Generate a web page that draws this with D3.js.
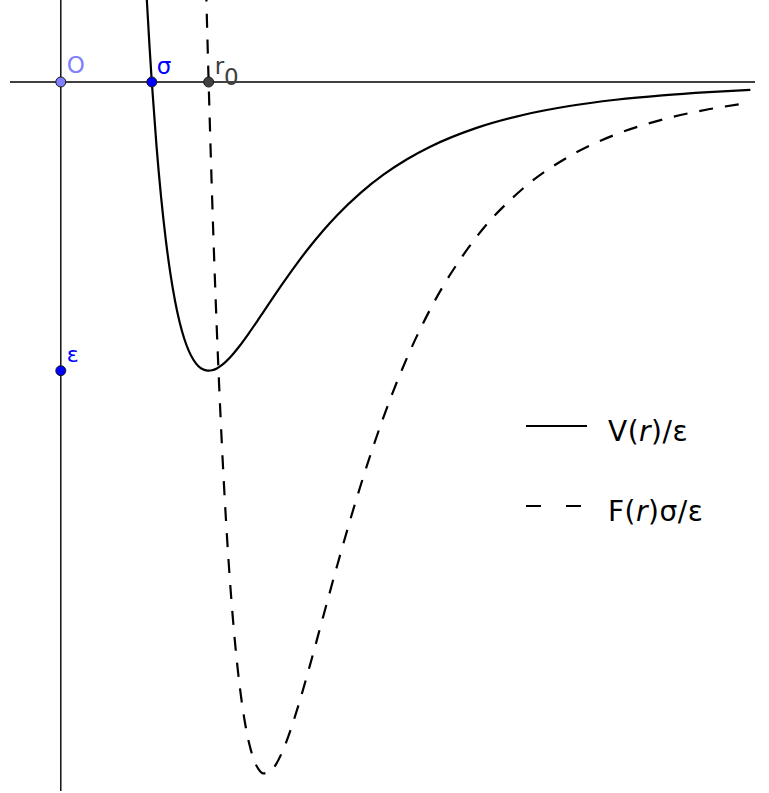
<!DOCTYPE html>
<html>
<head>
<meta charset="utf-8">
<script src="https://cdn.jsdelivr.net/npm/d3@7"></script>
<style>
  html, body { margin: 0; padding: 0; background: #fff; }
  svg { display: block; }
  text { font-family: "DejaVu Sans", sans-serif; }
</style>
</head>
<body>
<script>
// Lennard-Jones potential V(r)/ε and force F(r)σ/ε, tabulated against r/σ
const rV = [0.985, 0.99, 0.995, 1.0, 1.01, 1.02, 1.03, 1.04, 1.05, 1.06, 1.07, 1.08, 1.09,
  1.10, 1.11, 1.12, 1.1225, 1.13, 1.14, 1.15, 1.17, 1.19, 1.21, 1.23, 1.25, 1.28, 1.31,
  1.34, 1.37, 1.40, 1.45, 1.50, 1.55, 1.60, 1.70, 1.80, 1.90, 2.00, 2.10, 2.20, 2.29];
const potential = [0.4157, 0.2641, 0.1259, 0, -0.2184, -0.3979, -0.5444, -0.6629, -0.7575,
  -0.8320, -0.8893, -0.9322, -0.9629, -0.9834, -0.9952, -0.9998, -1.0, -0.9985, -0.9921,
  -0.9817, -0.9515, -0.9126, -0.8684, -0.8216, -0.7737, -0.7027, -0.6349, -0.5716, -0.5134,
  -0.4607, -0.3841, -0.3203, -0.2676, -0.2242, -0.1589, -0.1142, -0.0832, -0.0615, -0.0461,
  -0.0350, -0.0275];

const rF = [1.10, 1.11, 1.12, 1.1225, 1.13, 1.14, 1.15, 1.16, 1.17, 1.18, 1.19, 1.20, 1.21,
  1.22, 1.23, 1.24, 1.25, 1.26, 1.28, 1.30, 1.32, 1.34, 1.37, 1.40, 1.45, 1.50, 1.55, 1.60,
  1.70, 1.80, 1.90, 2.00, 2.10, 2.20, 2.29];
const force = [1.5881, 0.8009, 0.1440, 0, -0.4016, -0.8520, -1.2212, -1.5210, -1.7619,
  -1.9524, -2.1002, -2.2117, -2.2925, -2.3473, -2.3803, -2.3950, -2.3944, -2.3810, -2.3246,
  -2.2400, -2.1376, -2.0249, -1.8480, -1.6720, -1.3976, -1.1580, -0.9554, -0.7875, -0.5364,
  -0.3690, -0.2571, -0.1816, -0.1302, -0.0945, -0.0717];

// Marked points
const pointLabels = ["O", "σ", "r", "ε"];
const pointR = [0.80388, 1.0, 1.1225, 0.80388];
const pointV = [0, 0, 0, -1];
const pointFill = ["#7f7fff", "#0000ff", "#404040", "#0000ff"];
const labelColor = ["#7f7fff", "#0000ff", "#404040", "#0000ff"];

const legendLabels = [["V(", "r", ")/ε"], ["F(", "r", ")σ/ε"]];

const W = 769, H = 793;
const svg = d3.select("body").append("svg").attr("width", W).attr("height", H);

const x = d3.scaleLinear().domain([1, 2]).range([151.8, 615.8]);
const y = d3.scaleLinear().domain([0, -1]).range([82, 370.7]);

// axes
const x0 = x(pointR[0]);
svg.append("line").attr("x1", 10).attr("x2", 755).attr("y1", y(0)).attr("y2", y(0))
  .attr("stroke", "#000").attr("stroke-width", 1.4);
svg.append("line").attr("x1", x0).attr("x2", x0).attr("y1", 0).attr("y2", 791)
  .attr("stroke", "#000").attr("stroke-width", 1.4);

const line = d3.line().x(d => x(d[0])).y(d => y(d[1])).curve(d3.curveMonotoneX);

svg.append("path")
  .datum(rV.map((r, i) => [r, potential[i]]))
  .attr("d", line).attr("fill", "none").attr("stroke", "#000").attr("stroke-width", 2.2);

svg.append("path")
  .datum(rF.map((r, i) => [r, force[i]]))
  .attr("d", line).attr("fill", "none").attr("stroke", "#000").attr("stroke-width", 2.2)
  .attr("stroke-dasharray", "14,12");

// points and their labels
const labelDx = [6, 5, 6, 6];
const labelDy = [-9, -8, -8, -9];
const labelSize = [23, 23, 23, 22];
const pts = svg.append("g");
pointLabels.forEach((lab, i) => {
  const px = x(pointR[i]), py = y(pointV[i]);
  pts.append("circle").attr("cx", px).attr("cy", py).attr("r", 5)
    .attr("fill", pointFill[i]).attr("stroke", "#1a1a1a").attr("stroke-width", 1);
  const t = pts.append("text").attr("x", px + labelDx[i]).attr("y", py + labelDy[i])
    .attr("fill", labelColor[i]).style("font-size", labelSize[i] + "px").text(lab);
  if (lab === "r") {
    t.append("tspan").attr("dy", 11).text("0");
  }
});

// legend
const legendY = [426, 506];
const legend = svg.append("g");
legendLabels.forEach((parts, i) => {
  const ly = legendY[i];
  legend.append("line").attr("x1", 526).attr("x2", 587).attr("y1", ly).attr("y2", ly)
    .attr("stroke", "#000").attr("stroke-width", 2)
    .attr("stroke-dasharray", i === 1 ? "15,25" : null);
  const t = legend.append("text").attr("x", 608).attr("y", ly + 15)
    .attr("fill", "#000").style("font-size", "28px").style("letter-spacing", "0.5px");
  t.append("tspan").text(parts[0]);
  t.append("tspan").attr("font-style", "italic").text(parts[1]);
  t.append("tspan").text(parts[2]);
});
</script>
</body>
</html>
